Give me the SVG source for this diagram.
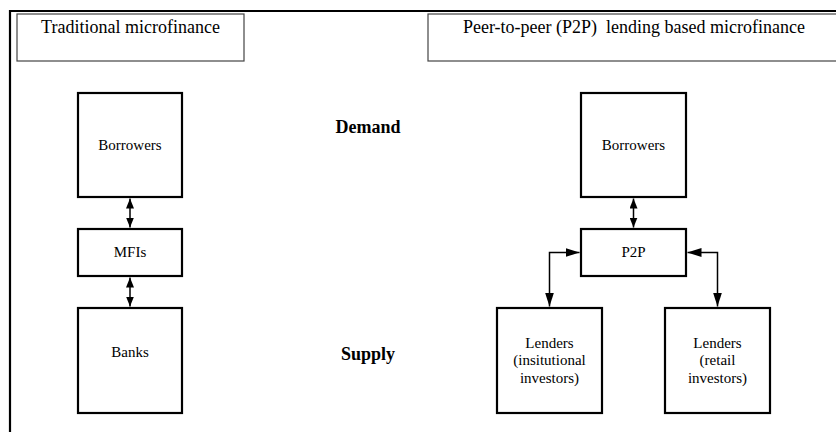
<svg xmlns="http://www.w3.org/2000/svg" width="836" height="432" viewBox="0 0 836 432">
<style>
text{font-family:"Liberation Serif","Times New Roman",serif;fill:#000;text-anchor:middle}
.t{font-size:18px}
.n{font-size:15px}
.b{font-size:18px;font-weight:bold}
.title{fill:#fff;stroke:#444;stroke-width:1.2}
.box{fill:#fff;stroke:#000;stroke-width:2.2}
.c{fill:none;stroke:#000;stroke-width:1.5}
.s{marker-start:url(#ah);marker-end:url(#ah)}
.l{marker-start:url(#ahL);marker-end:url(#ahL)}
</style>
<defs>
<marker id="ah" viewBox="0 0 10 8" refX="10" refY="4" markerWidth="10" markerHeight="8" markerUnits="userSpaceOnUse" orient="auto-start-reverse"><path d="M0,0 L10,4 L0,8 Z" fill="#000"/></marker>
<marker id="ahL" viewBox="0 0 14 9" refX="14" refY="4.5" markerWidth="14" markerHeight="9" markerUnits="userSpaceOnUse" orient="auto-start-reverse"><path d="M0,0 L14,4.5 L0,9 Z" fill="#000"/></marker>
</defs>
<rect width="836" height="432" fill="#fff"/>
<path d="M10,432 V11 H836" fill="none" stroke="#000" stroke-width="2.2"/>
<g id="title-traditional"><rect class="title" x="17" y="14" width="227" height="47"/><text class="t" x="130.5" y="32.5">Traditional microfinance</text></g>
<g id="title-p2p"><rect class="title" x="428" y="14" width="412" height="47"/><text class="t" x="634" y="32.5" xml:space="preserve">Peer-to-peer (P2P)&#160; lending based microfinance</text></g>
<g id="label-demand"><text class="b" x="368" y="133">Demand</text></g>
<g id="label-supply"><text class="b" x="368" y="360">Supply</text></g>
<g id="borrowers-left"><rect class="box" x="78" y="93" width="104" height="104"/><text class="n" x="130" y="150">Borrowers</text></g>
<g id="mfis"><rect class="box" x="78" y="229" width="104" height="47"/><text class="n" x="130" y="257">MFIs</text></g>
<g id="banks"><rect class="box" x="78" y="308" width="104" height="105"/><text class="n" x="130" y="356.5">Banks</text></g>
<g id="borrowers-right"><rect class="box" x="581" y="93" width="105" height="104"/><text class="n" x="633.5" y="150">Borrowers</text></g>
<g id="p2p"><rect class="box" x="581" y="229" width="105" height="47"/><text class="n" x="633.5" y="257">P2P</text></g>
<g id="lenders-institutional"><rect class="box" x="497" y="308" width="105" height="105"/><text class="n" x="549.5" y="347.5">Lenders</text><text class="n" x="549.5" y="365">(insitutional</text><text class="n" x="549.5" y="382.5">investors)</text></g>
<g id="lenders-retail"><rect class="box" x="665" y="308" width="105" height="105"/><text class="n" x="717.5" y="347.5">Lenders</text><text class="n" x="717.5" y="365">(retail</text><text class="n" x="717.5" y="382.5">investors)</text></g>
<g id="connectors">
<path class="c s" d="M130,198.5 V227.5"/>
<path class="c s" d="M130,277.5 V306.5"/>
<path class="c s" d="M633.5,198.5 V227.5"/>
<path class="c l" d="M579.5,252.5 H549.5 V306.5"/>
<path class="c l" d="M687.5,252.5 H717.5 V306.5"/>
</g>
</svg>
